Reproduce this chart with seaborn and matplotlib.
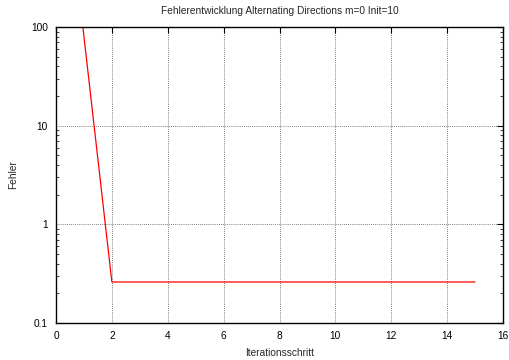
import seaborn as sns
import pandas as pd
import matplotlib
matplotlib.use("Agg")
import matplotlib.pyplot as plt
import matplotlib.ticker as tick

# Error per iteration step
iterations = list(range(0, 16))
errors = [30000, 80] + [0.26] * 14

title = "Fehlerentwicklung Alternating Directions m=0 Init=10"
xlabel = "Iterationsschritt"
ylabel = "Fehler"
yticks = [0.1, 1, 10, 100]
ytick_labels = ["0.1", "1", "10", "100"]

sns.set_style("white")
plt.rcParams['font.family'] = ['Liberation Sans', 'DejaVu Sans']

df = pd.DataFrame({"iter": iterations, "err": errors})

fig = plt.figure(figsize=(5.1, 3.6), dpi=100)
ax = fig.add_axes([0.1098, 0.103, 0.8765, 0.822])

sns.lineplot(x="iter", y="err", data=df, color="red", linewidth=0.9, ax=ax)

ax.set_yscale("log")
ax.set_xlim(0, 16)
ax.set_ylim(0.1, 100)
ax.set_xticks(range(0, 17, 2))
ax.set_yticks(yticks)
ax.set_yticklabels(ytick_labels)
ax.yaxis.set_minor_locator(tick.LogLocator(base=10, subs=range(2, 10)))
ax.yaxis.set_minor_formatter(tick.NullFormatter())

ax.grid(True, which="major", color="#555555", linestyle=(0, (1, 1.5)), linewidth=0.6)
ax.tick_params(axis="both", which="major", direction="in", length=4, width=0.8,
               top=True, right=True, labelsize=7.3, colors="black", pad=6)
ax.tick_params(axis="y", which="minor", direction="in", length=2, width=0.6,
               left=True, right=True)
for s in ax.spines.values():
    s.set_color("black")
    s.set_linewidth(1.0)

ax.set_title(title, fontsize=7.3, pad=9)
ax.set_xlabel(xlabel, fontsize=7.3, labelpad=5)
ax.set_ylabel(ylabel, fontsize=7.3, labelpad=9)

fig.savefig("out.png", dpi=100, facecolor="w")
